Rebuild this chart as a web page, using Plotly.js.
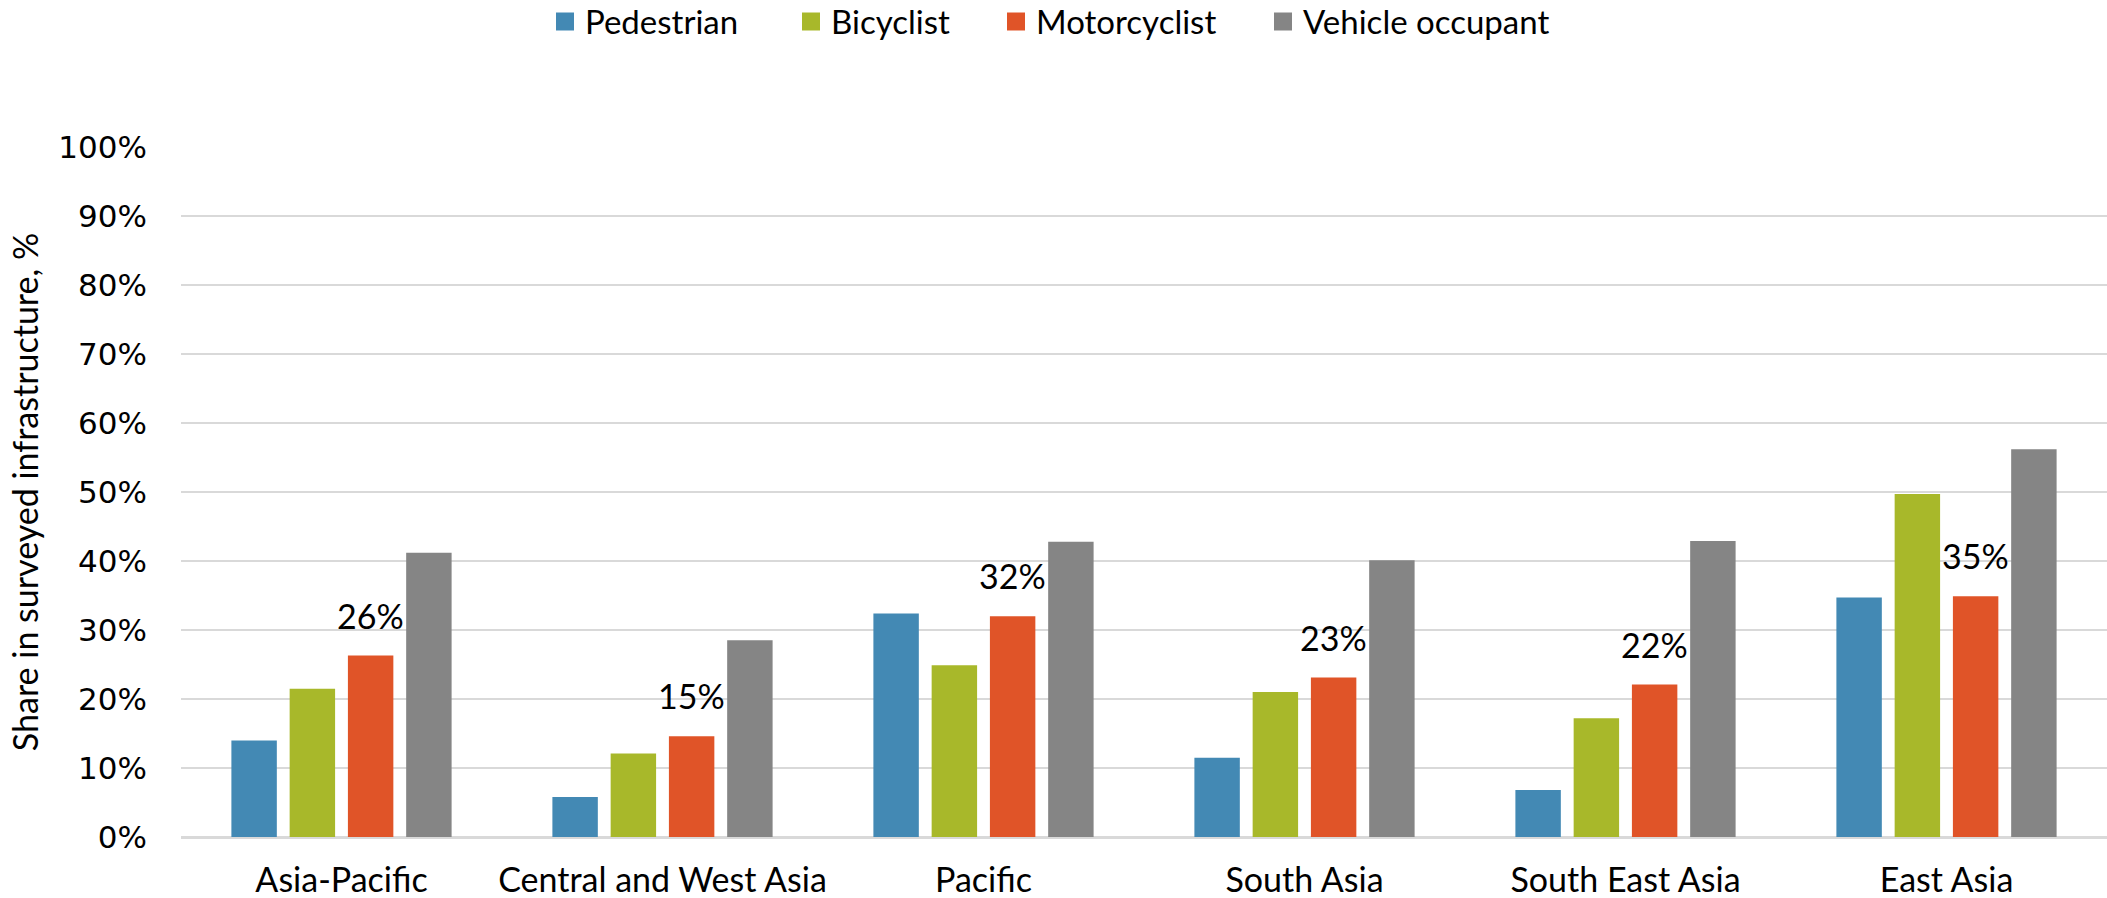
<!DOCTYPE html>
<html>
<head>
<meta charset="utf-8">
<script src="https://cdn.plot.ly/plotly-3.0.1.min.js"></script>
<style>html,body{margin:0;padding:0;background:#fff;}#chart{width:2107px;height:898px;}</style>
</head>
<body>
<div id="chart"></div>
<script>
var regions = ["Asia-Pacific", "Central and West Asia", "Pacific", "South Asia", "South East Asia", "East Asia"];
var pedestrian = [0.140, 0.058, 0.324, 0.115, 0.068, 0.347];
var bicyclist = [0.215, 0.121, 0.249, 0.210, 0.172, 0.497];
var motorcyclist = [0.263, 0.146, 0.320, 0.231, 0.221, 0.349];
var vehicleOccupant = [0.412, 0.285, 0.428, 0.401, 0.429, 0.562];
var seriesNames = ["Pedestrian", "Bicyclist", "Motorcyclist", "Vehicle occupant"];
var seriesColors = ["#4389B4", "#A8B82A", "#E05428", "#858585"];
var labelledSeries = motorcyclist;

var FONT = "Lato, 'Open Sans', sans-serif";
var W = 2107, H = 898, ML = 181, MR = 0, MT = 147, MB = 61;
var PW = W - ML - MR, PH = H - MT - MB;
var bargap = 0.274, bargroupgap = 0.22;
var seriesData = [pedestrian, bicyclist, motorcyclist, vehicleOccupant];
var traces = seriesData.map(function (vals, i) {
  return {
    type: "bar", name: seriesNames[i], x: regions, y: vals,
    marker: {color: seriesColors[i], line: {width: 0}},
    hoverinfo: "none", showlegend: false
  };
});

// data labels above the motorcyclist bars (3rd of 4 in each group)
var slot = (1 - bargap) / 4;
var offset = -(1 - bargap) / 2 + slot * 2.5;
var annotations = labelledSeries.map(function (v, i) {
  return {
    xref: "x", yref: "y", x: i + offset, y: v,
    text: Math.round(v * 100) + "%", showarrow: false,
    yanchor: "bottom", xanchor: "center", yshift: 18,
    font: {family: FONT, size: 34, color: "#000"}
  };
});

// legend drawn as swatches + labels (pixel positions converted to paper coords)
var legendX = [556, 802, 1007, 1274];
var legendY = 21.5, sw = 18;
function px2x(p) { return (p - ML) / PW; }
function px2y(p) { return (H - MB - p) / PH; }
var shapes = [];
seriesNames.forEach(function (n, i) {
  shapes.push({
    type: "rect", xref: "paper", yref: "paper",
    x0: px2x(legendX[i]), x1: px2x(legendX[i] + sw),
    y0: px2y(legendY + sw / 2), y1: px2y(legendY - sw / 2),
    fillcolor: seriesColors[i], line: {width: 0}
  });
  annotations.push({
    xref: "paper", yref: "paper", x: px2x(legendX[i] + sw + 9), y: px2y(legendY),
    xanchor: "left", yanchor: "middle", showarrow: false, text: n,
    font: {family: FONT, size: 33, color: "#000"}
  });
});

var layout = {
  width: W, height: H,
  margin: {l: ML, r: MR, t: MT, b: MB, pad: 0},
  paper_bgcolor: "#fff", plot_bgcolor: "#fff",
  barmode: "group", bargap: bargap, bargroupgap: bargroupgap,
  font: {family: FONT, color: "#000"},
  showlegend: false,
  xaxis: {
    type: "category", showgrid: false, showline: false, ticks: "",
    tickfont: {family: FONT, size: 34, color: "#000"}, ticklabelstandoff: 20
  },
  yaxis: {
    range: [0, 1], dtick: 0.1, tick0: 0, tickformat: ".0%",
    showgrid: true, gridcolor: "#D9D9D9", gridwidth: 2,
    zeroline: true, zerolinecolor: "#D9D9D9", zerolinewidth: 3,
    showline: false, ticks: "", ticklabelstandoff: 33,
    tickfont: {family: "'DejaVu Sans', sans-serif", size: 31, color: "#000"},
    title: {text: "Share in surveyed infrastructure, %", standoff: 9,
            font: {family: FONT, size: 34, color: "#000"}}
  },
  shapes: shapes,
  annotations: annotations
};

Plotly.newPlot("chart", traces, layout, {staticPlot: true, displayModeBar: false});
</script>
</body>
</html>
